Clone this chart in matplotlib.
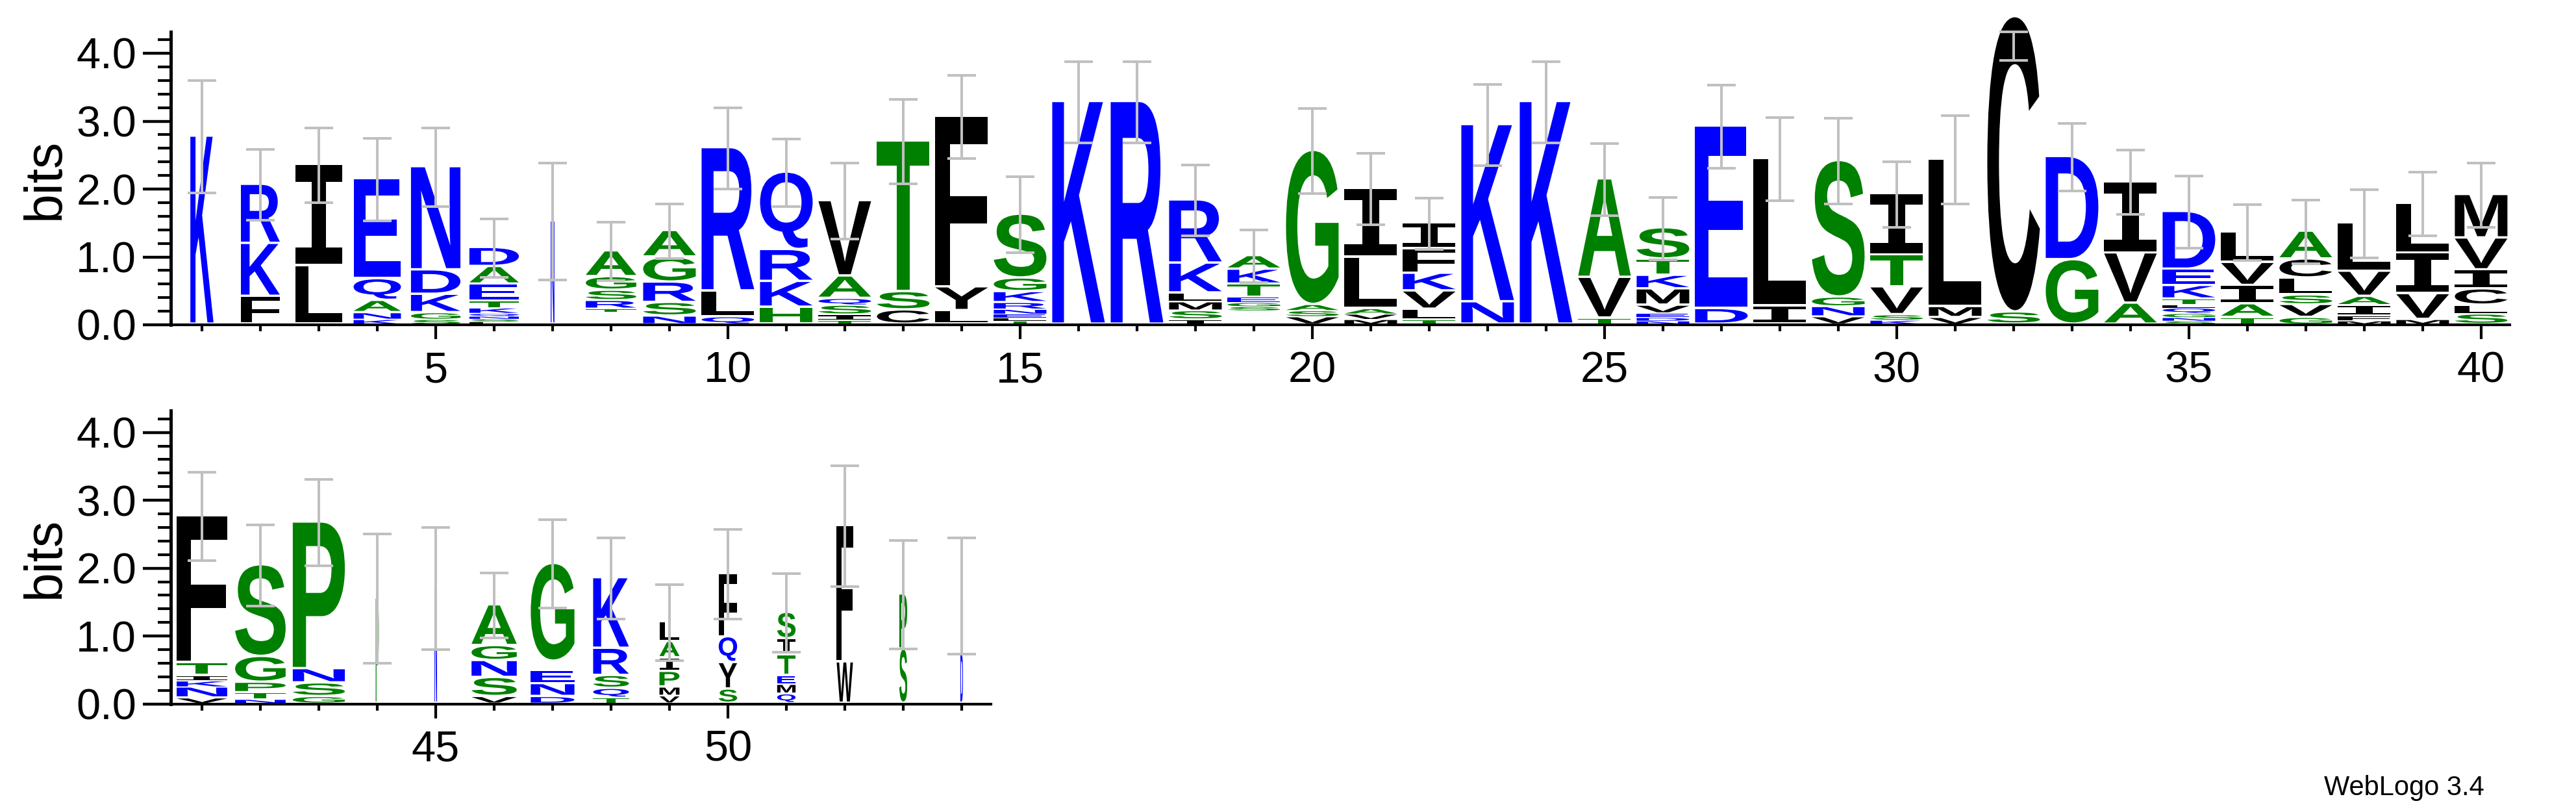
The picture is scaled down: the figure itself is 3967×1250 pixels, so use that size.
import matplotlib
matplotlib.use('Agg')
import matplotlib.pyplot as plt
from matplotlib.textpath import TextPath
from matplotlib.patches import PathPatch
from matplotlib.font_manager import FontProperties
from matplotlib.transforms import Affine2D
from matplotlib.ticker import MultipleLocator, FormatStrFormatter

plt.rcParams['font.family'] = ['Liberation Sans', 'DejaVu Sans']

# Residues per position, from bottom to top ('.' = residues too small to see)
seqs_top = ["K", "FKR", "LI", "KNAQE", "SGKDN", "LSNQKTEAD", "N", ".TRSGA",
            "NSRGA", "QLR", "HKRQ", "TISQAV", "CST", "LYF", "TLENRKGS", "K",
            "R", "ISMLKR", ".SGETKA", "VSAG", "MVALI", "TLVKFI", "NK", "K",
            "TVA", "NDEVMKTS", "DE", "IL", "VNGS", "KSVTI", "VML", "SC",
            "GD", "AVI", "SNGQLTKED", "TAIVL", "GVSLCA", "MFIAVL", "MVIL", "SLCIVM"]
heights_top = [
    [2.77], [0.41, 0.78, 0.87], [0.86, 1.49], [0.07, 0.10, 0.18, 0.32, 1.47],
    [0.07, 0.10, 0.27, 0.36, 1.52], [0.04, 0.04, 0.04, 0.04, 0.08, 0.10, 0.25, 0.26, 0.28],
    [1.52], [0.18, 0.05, 0.12, 0.15, 0.20, 0.38],
    [0.12, 0.20, 0.30, 0.37, 0.39], [0.11, 0.38, 2.11], [0.25, 0.38, 0.47, 1.14],
    [0.06, 0.08, 0.14, 0.10, 0.33, 1.11], [0.21, 0.27, 2.22], [0.20, 0.35, 2.51],
    [0.05, 0.05, 0.05, 0.07, 0.10, 0.16, 0.20, 0.94], [3.28],
    [3.28], [0.07, 0.13, 0.13, 0.13, 0.44, 0.93], [0.20, 0.06, 0.06, 0.08, 0.19, 0.22, 0.20],
    [0.11, 0.09, 0.09, 2.27], [0.07, 0.08, 0.08, 0.76, 1.01], [0.07, 0.15, 0.27, 0.26, 0.36, 0.38],
    [0.33, 2.61], [3.28],
    [0.09, 0.60, 1.45], [0.05, 0.05, 0.06, 0.12, 0.24, 0.20, 0.24, 0.46], [0.23, 2.69],
    [0.27, 2.17], [0.11, 0.15, 0.14, 2.01], [0.06, 0.08, 0.41, 0.47, 0.90], [0.10, 0.16, 2.17],
    [0.18, 4.35],
    [0.95, 1.52], [0.31, 0.74, 1.05], [0.05, 0.05, 0.06, 0.08, 0.05, 0.08, 0.20, 0.24, 0.85],
    [0.10, 0.20, 0.27, 0.34, 0.45], [0.10, 0.19, 0.14, 0.25, 0.28, 0.41],
    [0.05, 0.07, 0.16, 0.13, 0.37, 0.71], [0.07, 0.38, 0.60, 0.73],
    [0.15, 0.13, 0.24, 0.28, 0.47, 0.64]]
widths_top = [0.44, 0.74, 0.88, 0.90, 0.94, 0.94, 0.07, 0.96, 1.0, 1.0,
              1.0, 1.0, 1.0, 1.0, 1.0, 1.0, 1.0, 1.0, 1.0, 1.0,
              1.0, 1.0, 1.0, 1.0, 1.0, 1.0, 1.0, 1.0, 1.0, 1.0,
              1.0, 1.0, 1.0, 1.0, 1.0, 1.0, 1.0, 1.0, 1.0, 1.0]
errors_top = [0.83, 0.52, 0.55, 0.61, 0.58, 0.43, 0.86, 0.43, 0.40, 0.60,
              0.50, 0.56, 0.62, 0.61, 0.56, 0.60, 0.60, 0.52, 0.39, 0.63,
              0.53, 0.38, 0.60, 0.60, 0.53, 0.46, 0.61, 0.61, 0.63, 0.48,
              0.65, 0.64, 0.50, 0.47, 0.53, 0.41, 0.47, 0.50, 0.47, 0.47]

seqs_bot = ["VNKITF", "NTPGS", "GSNP", "P", "N", "VSNGA", "DNE.G", "TQSRK",
            "VMPIAL", "SYQF", "QMETIS", "WF", "SP", "DN"]
heights_bot = [
    [0.08, 0.16, 0.09, 0.08, 0.19, 2.16], [0.06, 0.10, 0.15, 0.38, 1.35],
    [0.10, 0.20, 0.21, 2.16], [1.55], [1.70], [0.10, 0.28, 0.25, 0.22, 0.60],
    [0.10, 0.19, 0.19, 0.14, 1.44], [0.08, 0.14, 0.19, 0.40, 1.04],
    [0.11, 0.13, 0.23, 0.20, 0.24, 0.29], [0.21, 0.39, 0.38, 0.93],
    [0.14, 0.14, 0.13, 0.30, 0.24, 0.39], [0.61, 2.01], [0.80, 0.81], [0.74, 0.85]]
widths_bot = [0.96, 0.96, 0.99, 0.06, 0.05, 0.86, 0.83, 0.68, 0.38, 0.35,
              0.35, 0.31, 0.15, 0.05]
errors_bot = [0.65, 0.60, 0.64, 0.95, 0.90, 0.48, 0.65, 0.60, 0.56, 0.66,
              0.58, 0.89, 0.80, 0.86]

colores = {}
for aa in "DEKRNQ":
    colores[aa] = '#0000ff'
for aa in "AGSTPH":
    colores[aa] = '#008000'
for aa in "CFILMVWY":
    colores[aa] = '#000000'

YMAX = 4.32
W, H = 3967, 1250
fp = FontProperties(family='Liberation Sans', weight='bold')
fp_serif_i = FontProperties(family='Liberation Mono', weight='bold')  # I con remates


def dibujar_logo(ax, start, seqs, heights, widths, errors, xlim):
    for i, (seq, hs, w, e) in enumerate(zip(seqs, heights, widths, errors)):
        x = start + i
        y = 0.0
        for aa, h in zip(seq, hs):
            if aa != '.':
                path = TextPath((0, 0), aa, size=1,
                                prop=fp_serif_i if aa == 'I' else fp)
                bb = path.get_extents()
                gap = min(0.035, 0.2 * h)
                ancho = 0.9 * w
                tr = (Affine2D().translate(-bb.x0, -bb.y0)
                      .scale(ancho / bb.width, (h - gap) / bb.height)
                      .translate(x - ancho / 2, y + gap))
                ax.add_patch(PathPatch(path, transform=tr + ax.transData,
                                       facecolor=colores[aa], edgecolor='none',
                                       lw=0, clip_on=False))
            y += h
        # error bar drawn from its lower end, top clipped at the axis maximum
        lo = y - e
        hi = min(y + e, YMAX)
        ax.errorbar([x], [lo], yerr=[[0], [hi - lo]], fmt='none', ecolor='#c0c0c0',
                    elinewidth=2.9, capsize=16, capthick=2.9, zorder=5, clip_on=False)

    ax.set_xlim(*xlim)
    ax.set_ylim(0, YMAX)
    for s in ['top', 'right']:
        ax.spines[s].set_visible(False)
    ax.spines['left'].set_linewidth(3.6)
    ax.spines['bottom'].set_linewidth(3.0)
    ax.yaxis.set_major_locator(MultipleLocator(1.0))
    ax.yaxis.set_minor_locator(MultipleLocator(0.2))
    ax.yaxis.set_major_formatter(FormatStrFormatter('%.1f'))
    ax.xaxis.set_major_locator(MultipleLocator(5))
    ax.xaxis.set_minor_locator(MultipleLocator(1))
    ax.tick_params(axis='y', which='major', direction='out', length=31, width=3.2,
                   labelsize=48, pad=7)
    ax.tick_params(axis='y', which='minor', direction='out', length=14.4, width=3.0)
    ax.tick_params(axis='x', which='major', direction='out', length=16, width=3.0,
                   labelsize=48, pad=13)
    ax.tick_params(axis='x', which='minor', direction='out', length=7.2, width=3.0)


fig = plt.figure(figsize=(W / 100, H / 100), dpi=100)
alto = YMAX * 104.5

ax1 = fig.add_axes([263 / W, 1 - 500 / H, (3865 - 263) / W, alto / H])
dibujar_logo(ax1, 1, seqs_top, heights_top, widths_top, errors_top, (0.467, 40.49))

ax2 = fig.add_axes([263 / W, 1 - 1083.6 / H, (1526 - 263) / W, alto / H])
dibujar_logo(ax2, 41, seqs_bot, heights_bot, widths_bot, errors_bot, (40.467, 54.5))

fig.text(70 / W, 1 - 275 / H, 'bits', rotation=90, fontsize=58, ha='center', va='center')
fig.text(70 / W, 1 - 858 / H, 'bits', rotation=90, fontsize=58, ha='center', va='center')
fig.text(3826 / W, 1 - 1224 / H, 'WebLogo 3.4', fontsize=30, ha='right', va='baseline')

fig.savefig('out.png', dpi=100)
